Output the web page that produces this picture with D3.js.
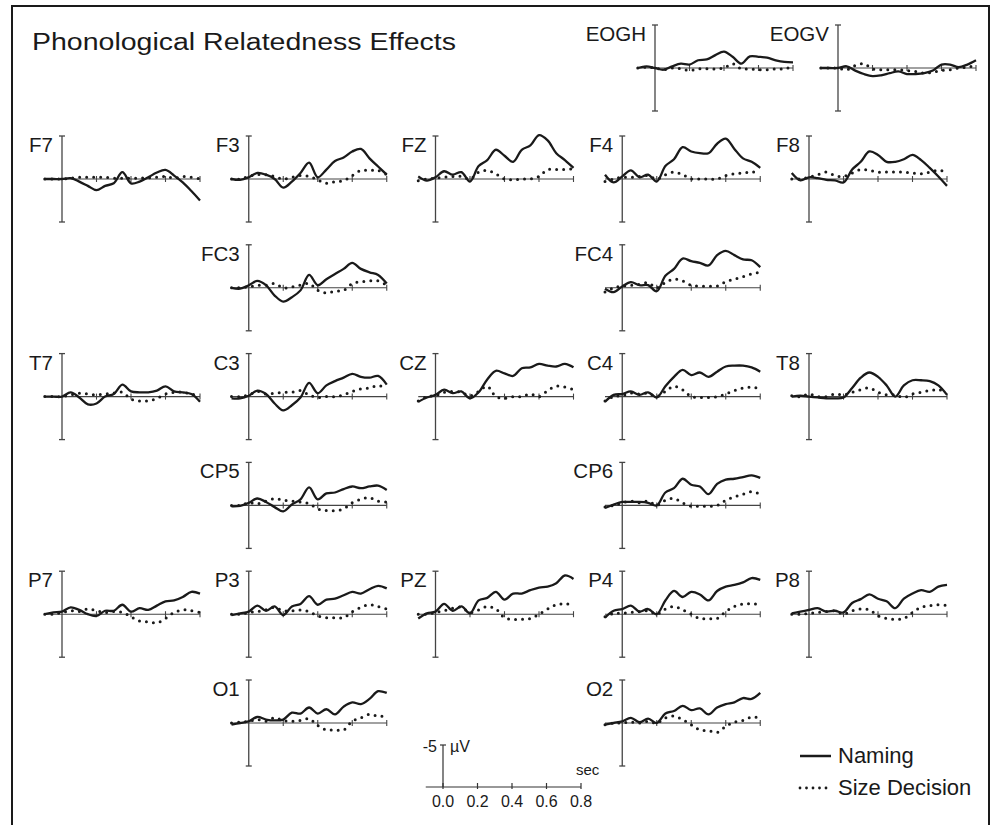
<!DOCTYPE html>
<html><head><meta charset="utf-8">
<script src="https://cdn.jsdelivr.net/npm/d3@7"></script>
<style>
html,body{margin:0;padding:0;background:#fff;}
svg{display:block;font-family:"Liberation Sans",Arial,Helvetica,sans-serif;}
</style></head>
<body><svg id="chart" width="997" height="825"></svg>
<script>
// ---------- data (µV, negative plotted upward) ----------
const times = [-0.1,-0.05,0,0.05,0.1,0.15,0.2,0.25,0.3,0.35,0.4,0.45,0.5,0.55,0.6,0.65,0.7,0.75,0.8];
const scaleTicks = [0.0,0.2,0.4,0.6,0.8];
const panelTicks = [0.2,0.4,0.6,0.8];
const seriesNames = ["Naming","Size Decision"];
const title = "Phonological Relatedness Effects";

const EOGH_naming = [0,-0.2,0,0.2,-0.2,-0.5,-0.4,-0.9,-1.0,-1.5,-1.9,-1.3,-0.5,-1.35,-1.3,-1.2,-0.9,-0.7,-0.65];
const EOGH_size   = [0,-0.1,0,0.2,0,0.1,0.3,0.1,0.1,0.1,0,-0.5,0.1,0.1,0.2,0.2,0.1,0.1,-0.2];
const EOGV_naming = [0,0,0,-0.2,0.3,0.7,0.95,0.85,0.6,0.4,0.7,0.7,0.6,0.3,-0.4,-0.4,-0.1,-0.4,-0.9];
const EOGV_size   = [0,0,0,0.2,-0.3,-0.5,0.1,0.2,0.2,0.2,0.3,0.4,0.6,0.5,0.3,0.2,0,-0.1,-0.3];

const F7_naming = [0,0,0,-0.1,0.3,0.8,1.3,0.8,0.5,-0.8,0.5,0.3,-0.2,-0.75,-1.05,-0.4,0.4,1.4,2.5];
const F7_size   = [0,0,0,-0.1,-0.2,-0.2,-0.2,-0.2,-0.1,-0.1,-0.1,-0.1,-0.15,-0.2,-0.3,-0.1,-0.3,-0.2,0];
const F3_naming = [0,0.1,-0.2,-0.7,-0.5,0,1.0,0.3,-0.7,-1.9,-0.2,-1.1,-2.1,-2.5,-3.2,-3.5,-2.4,-1.45,-0.5];
const F3_size   = [0,0,-0.3,-0.5,-0.5,-0.3,0,-0.2,-0.4,-0.3,0.1,0.5,0.3,0.2,-0.4,-1.0,-1.0,-1.0,-0.5];
const FZ_naming = [-0.3,0.2,-0.2,-0.9,-0.5,-0.8,0.3,-1.5,-2.2,-3.4,-2.7,-2.0,-3.4,-3.9,-5.1,-4.5,-3.0,-2.2,-1.3];
const FZ_size   = [0.2,0,-0.1,-0.2,-0.3,-0.3,0,-0.8,-1.0,-0.6,0,0.1,0,0,-0.3,-1.1,-1.1,-1.1,-1.2];
const F4_naming = [-0.5,0.4,-0.3,-1.0,-0.2,-0.5,0.3,-1.5,-2.3,-3.7,-3.2,-3.0,-3.0,-4.1,-4.7,-3.5,-2.4,-2.0,-1.3];
const F4_size   = [0.3,0,-0.2,-0.2,-0.3,-0.4,0,-0.5,-0.8,-0.5,0,0,0,0,-0.4,-0.6,-0.7,-0.8,-0.8];
const F8_naming = [-0.7,0.15,-0.2,-0.1,0.1,0.15,0.4,-1.1,-2.0,-3.2,-2.8,-2.0,-2.0,-2.3,-2.8,-2.2,-1.3,-0.3,0.8];
const F8_size   = [0,0,-0.2,-0.5,-0.8,-0.4,-0.3,-0.7,-1.1,-1.0,-0.8,-0.8,-0.8,-0.8,-0.7,-0.6,-0.8,-1.0,-0.8];

const FC3_naming = [0,0.1,-0.3,-0.8,-0.3,0.9,1.6,1.1,0.3,-1.5,-0.3,-1.0,-1.6,-2.2,-2.9,-2.2,-1.8,-1.5,-0.5];
const FC3_size   = [0,0,-0.1,-0.3,-0.3,-0.5,0,-0.1,-0.3,-0.5,0.3,0.6,0.4,0.3,-0.5,-0.7,-0.8,-0.8,-0.3];
const FC4_naming = [0.1,0.5,-0.15,-0.65,-0.3,-0.3,0.4,-1.4,-2.2,-3.4,-3.1,-2.9,-2.6,-3.8,-4.3,-3.8,-3.3,-3.2,-2.4];
const FC4_size   = [0.5,0,-0.2,-0.3,-0.4,-0.6,0,-0.6,-1.0,-0.8,-0.3,-0.2,-0.2,-0.2,-0.7,-1.0,-1.3,-1.6,-1.8];

const T7_naming = [0,0,0,-0.5,0.1,0.9,0.8,0,-0.3,-1.4,-0.6,-0.5,-0.5,-0.7,-1.2,-0.6,-0.5,-0.3,0.6];
const T7_size   = [0,0,0,-0.2,-0.4,-0.3,-0.2,-0.3,-0.4,-0.5,0.3,0.5,0.5,0.2,-0.3,-0.5,-0.5,-0.3,0];
const C3_naming = [0.2,0.2,-0.1,-0.7,-0.3,0.8,1.6,1.0,0.1,-1.6,-0.4,-1.3,-1.8,-2.2,-2.65,-2.3,-2.2,-2.4,-1.4];
const C3_size   = [0,0,-0.2,-0.6,-0.3,-0.4,-0.5,-0.5,-0.7,-0.2,0.1,0,0,-0.2,-0.6,-0.9,-1.0,-1.3,-0.9];
const CZ_naming = [0.6,0.1,-0.2,-0.8,-0.4,-0.6,0.2,-0.5,-2.0,-3.0,-2.7,-2.4,-3.3,-3.4,-3.8,-3.6,-3.5,-3.8,-3.4];
const CZ_size   = [0.5,0,-0.1,-0.5,-0.6,-0.5,-0.1,-0.6,-1.2,0,0.2,0,0,-0.3,0,-0.7,-1.2,-1.1,-0.8];
const C4_naming = [0.6,-0.2,-0.3,-0.6,-0.2,-0.5,0.1,-1.2,-2.3,-3.1,-2.5,-2.8,-2.3,-2.9,-3.5,-3.6,-3.6,-3.4,-2.9];
const C4_size   = [0.5,0,-0.1,-0.4,-0.3,-0.4,0,-0.6,-1.2,-0.8,0,0.1,0.1,0,-0.3,-0.7,-1.0,-1.1,-0.9];
const T8_naming = [0,-0.1,0,0.1,0.2,0.2,0.1,-1.0,-2.2,-2.8,-2.3,-1.3,0,-1.3,-1.9,-1.9,-1.8,-1.3,-0.2];
const T8_size   = [-0.1,0,-0.3,0,0,-0.3,-0.2,-0.5,-0.8,-1.0,-0.5,-0.2,-0.2,0.1,-0.3,-0.5,-0.7,-0.8,-0.5];

const CP5_naming = [0.1,0.05,-0.3,-0.8,-0.4,0.2,0.7,-0.1,-0.7,-2.1,-0.7,-1.4,-1.5,-1.9,-2.2,-2.0,-2.2,-2.3,-1.8];
const CP5_size   = [0,0,-0.3,-0.2,-0.5,-0.8,-0.6,-0.5,-0.4,-0.2,0.4,0.6,0.6,0.4,-0.3,-0.7,-0.9,-0.5,-0.4];
const CP6_naming = [0.3,-0.1,-0.4,-0.4,-0.4,-0.3,0,-1.5,-2.0,-3.1,-2.4,-2.2,-1.3,-2.5,-3.0,-3.1,-3.3,-3.5,-3.2];
const CP6_size   = [0.2,0,-0.3,-0.5,-0.3,-0.5,0,-0.6,-0.8,-0.3,0.1,0.1,0.1,0,-0.6,-1.0,-1.3,-1.6,-1.3];

const P7_naming = [0,-0.2,-0.3,-0.8,-0.5,0,0.2,-0.4,-0.4,-1.1,-0.3,-0.7,-0.5,-1.0,-1.5,-1.6,-2.0,-2.6,-2.4];
const P7_size   = [0,0,-0.2,-0.4,-0.3,-0.6,-0.4,-0.2,-0.3,-0.2,0.3,0.8,0.9,1.0,0.5,-0.2,-0.5,-0.4,-0.2];
const P3_naming = [0.1,-0.1,-0.3,-1.0,-0.4,-0.9,0.1,-0.9,-1.2,-2.1,-1.1,-1.7,-1.8,-2.2,-2.6,-2.4,-2.9,-3.3,-3.0];
const P3_size   = [0,0,-0.2,-0.3,-0.5,-0.8,-0.4,-0.4,-0.5,-0.3,0.2,0.4,0.4,0.4,-0.3,-0.8,-1.1,-0.9,-0.6];
const PZ_naming = [0.5,-0.1,-0.3,-1.2,-0.4,-0.9,-0.1,-1.6,-1.9,-2.6,-1.7,-2.4,-2.4,-2.8,-3.1,-3.2,-3.6,-4.5,-4.1];
const PZ_size   = [0,0,-0.2,-0.4,-0.7,-0.8,-0.2,-0.5,-0.9,-0.6,0.4,0.6,0.6,0.5,0,-0.6,-1.1,-1.2,-1.1];
const P4_naming = [0.4,-0.4,-0.6,-1.0,-0.3,-0.6,0,-1.6,-2.7,-2.0,-2.6,-2.3,-1.6,-2.7,-3.2,-3.4,-3.7,-4.2,-4.0];
const P4_size   = [0.3,-0.1,-0.1,-0.2,-0.3,-0.4,0,-0.6,-0.9,-0.5,0,0.5,0.5,0.5,-0.3,-0.9,-1.2,-1.2,-1.2];
const P8_naming = [-0.1,-0.3,-0.5,-0.7,-0.3,-0.4,-0.2,-1.3,-1.75,-2.3,-1.8,-1.5,-0.7,-1.8,-2.4,-2.8,-2.6,-3.2,-3.4];
const P8_size   = [0,0,-0.1,-0.2,-0.3,-0.4,0,-0.4,-0.6,-0.5,0.2,0.5,0.6,0.5,-0.2,-0.8,-1.0,-1.1,-1.0];

const O1_naming = [0.2,0,-0.2,-0.7,-0.4,-0.3,-0.4,-1.2,-1.1,-1.8,-1.1,-1.6,-1.0,-1.9,-2.4,-2.2,-2.8,-3.7,-3.5];
const O1_size   = [0,-0.1,-0.2,-0.4,-0.2,-0.6,-0.3,-0.2,-0.3,-0.5,0.3,0.8,0.8,0.8,-0.2,-0.6,-1.0,-0.8,-0.8];
const O2_naming = [0.2,0,-0.2,-0.6,-0.1,-0.5,0,-1.1,-1.4,-2.0,-1.5,-1.7,-1.0,-1.8,-2.2,-2.4,-2.9,-2.8,-3.5];
const O2_size   = [0.2,0,0,-0.1,0,-0.2,0,-0.6,-0.8,-0.4,0.2,0.8,0.9,1.1,0.4,-0.1,-0.3,-0.7,-0.6];

// ---------- layout (grid column / row of each electrode) ----------
const gridPanels = [
  ["F7",0,0,F7_naming,F7_size],["F3",1,0,F3_naming,F3_size],["FZ",2,0,FZ_naming,FZ_size],
  ["F4",3,0,F4_naming,F4_size],["F8",4,0,F8_naming,F8_size],
  ["FC3",1,1,FC3_naming,FC3_size],["FC4",3,1,FC4_naming,FC4_size],
  ["T7",0,2,T7_naming,T7_size],["C3",1,2,C3_naming,C3_size],["CZ",2,2,CZ_naming,CZ_size],
  ["C4",3,2,C4_naming,C4_size],["T8",4,2,T8_naming,T8_size],
  ["CP5",1,3,CP5_naming,CP5_size],["CP6",3,3,CP6_naming,CP6_size],
  ["P7",0,4,P7_naming,P7_size],["P3",1,4,P3_naming,P3_size],["PZ",2,4,PZ_naming,PZ_size],
  ["P4",3,4,P4_naming,P4_size],["P8",4,4,P8_naming,P8_size],
  ["O1",1,5,O1_naming,O1_size],["O2",3,5,O2_naming,O2_size]
];
const eogPanels = [["EOGH",655,EOGH_naming,EOGH_size],["EOGV",838,EOGV_naming,EOGV_size]];

const svg = d3.select("#chart");
const ink = "#1a1a1a";
const colX = d3.scaleLinear().domain([0,4]).range([62,809]);
const rowY = d3.scaleLinear().domain([0,5]).range([179,723]);

// frame
svg.append("path").attr("d","M12,830V6H989V830").attr("fill","none").attr("stroke",ink).attr("stroke-width",2);

svg.append("text").attr("x",32).attr("y",50).attr("font-size",23).attr("fill",ink)
  .attr("textLength",424).attr("lengthAdjust","spacingAndGlyphs").text(title);

function drawPanel(name, ax, zy, naming, size){
  const g = svg.append("g");
  const x = d3.scaleLinear().domain([-0.1,0.8]).range([ax-17.25, ax+138]);
  const y = d3.scaleLinear().domain([-5,5]).range([zy-43, zy+43]);
  const axisC = "#444";
  g.append("line").attr("x1",x(-0.1)).attr("x2",x(0.8)).attr("y1",y(0)).attr("y2",y(0))
    .attr("stroke",axisC).attr("stroke-width",1.1);
  g.selectAll(".tk").data(panelTicks).join("line")
    .attr("x1",d=>x(d)).attr("x2",d=>x(d)).attr("y1",y(0)-3).attr("y2",y(0)+3)
    .attr("stroke",axisC).attr("stroke-width",1.1);
  g.append("line").attr("x1",x(0)).attr("x2",x(0)).attr("y1",y(-5)).attr("y2",y(5))
    .attr("stroke",axisC).attr("stroke-width",1.3);
  [-5,5].forEach(v=>g.append("line").attr("x1",x(0)-3).attr("x2",x(0)+3).attr("y1",y(v)).attr("y2",y(v))
    .attr("stroke",axisC).attr("stroke-width",1.3));
  g.append("text").attr("x",x(0)-9).attr("y",y(-5)+16).attr("text-anchor","end")
    .attr("font-size",20.5).attr("fill",ink).text(name);
  const line = d3.line().x((d,i)=>x(times[i])).y(d=>y(d)).curve(d3.curveCatmullRom);
  g.append("path").attr("d",line(size)).attr("fill","none").attr("stroke",ink)
    .attr("stroke-width",3).attr("stroke-linecap","round").attr("stroke-dasharray","0,7");
  g.append("path").attr("d",line(naming)).attr("fill","none").attr("stroke",ink)
    .attr("stroke-width",2.3).attr("stroke-linejoin","round");
}

gridPanels.forEach(([n,c,r,a,b])=>drawPanel(n,colX(c),rowY(r),a,b));
eogPanels.forEach(([n,ax,a,b])=>drawPanel(n,ax,68,a,b));

// scale bar (same time scale as the panels)
const sx = d3.scaleLinear().domain([-0.1,0.8]).range([443-17.25,443+138]);
const sy = d3.scaleLinear().domain([-5,0]).range([745,787]);
const sb = svg.append("g");
sb.append("line").attr("x1",sx(-0.1)).attr("x2",sx(0.8)).attr("y1",sy(0)).attr("y2",sy(0)).attr("stroke","#333").attr("stroke-width",1.2);
sb.selectAll(".st").data(scaleTicks).join("line").attr("x1",d=>sx(d)).attr("x2",d=>sx(d))
  .attr("y1",sy(0)-4).attr("y2",sy(0)+2).attr("stroke","#333").attr("stroke-width",1.2);
sb.append("line").attr("x1",sx(0)).attr("x2",sx(0)).attr("y1",sy(-5)).attr("y2",sy(0)).attr("stroke","#333").attr("stroke-width",1.2);
sb.append("line").attr("x1",sx(0)-3).attr("x2",sx(0)+3).attr("y1",sy(-5)).attr("y2",sy(-5)).attr("stroke","#333").attr("stroke-width",1.2);
sb.append("text").attr("x",sx(0)-6).attr("y",sy(-5)+7).attr("text-anchor","end").attr("font-size",16).attr("fill",ink).text("-5");
sb.append("text").attr("x",sx(0)+7).attr("y",sy(-5)+7).attr("font-size",16).attr("fill",ink).text("\u00b5V");
sb.append("text").attr("x",sx(0.8)-5).attr("y",sy(0)-12).attr("font-size",15).attr("fill",ink).text("sec");
sb.selectAll(".sl").data(scaleTicks).join("text").attr("x",d=>sx(d)).attr("y",sy(0)+20)
  .attr("text-anchor","middle").attr("font-size",16).attr("fill",ink).text(d=>d.toFixed(1));

// legend
const lg = svg.append("g");
seriesNames.forEach((s,i)=>{
  const yy = 756 + i*32;
  lg.append("line").attr("x1",800).attr("x2",831).attr("y1",yy).attr("y2",yy)
    .attr("stroke",ink).attr("stroke-width",i===0?2.5:2.8)
    .attr("stroke-linecap",i===0?"butt":"round").attr("stroke-dasharray",i===0?null:"0,6.5");
  lg.append("text").attr("x",838).attr("y",yy+7).attr("font-size",22).attr("fill",ink).text(s);
});
</script></body></html>
